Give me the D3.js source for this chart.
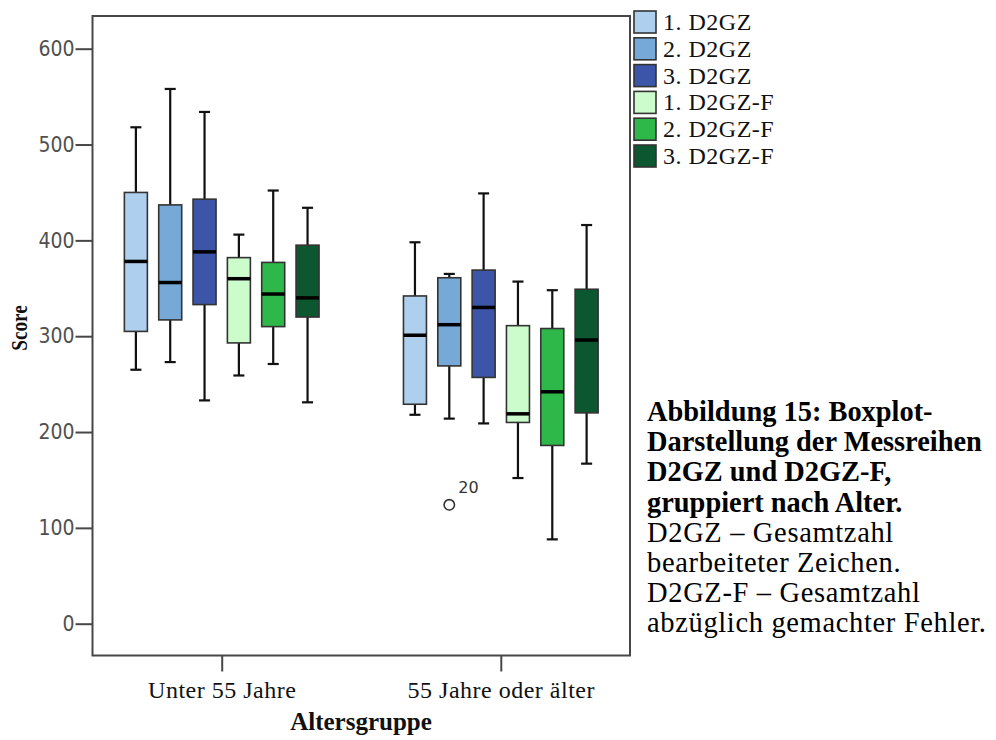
<!DOCTYPE html>
<html>
<head>
<meta charset="utf-8">
<script src="https://cdn.jsdelivr.net/npm/d3@7"></script>
<style>
  html, body { margin: 0; padding: 0; background: #fff; }
  svg { display: block; }
</style>
</head>
<body>
<svg id="chart" width="996" height="740"></svg>
<script>
// Age groups on the x axis
const groups = ["Unter 55 Jahre", "55 Jahre oder älter"];

// Measurement series (one box per series in each group)
const series = ["1. D2GZ", "2. D2GZ", "3. D2GZ", "1. D2GZ-F", "2. D2GZ-F", "3. D2GZ-F"];
const seriesColors = ["#aed0ee", "#76a8d8", "#3d55a8", "#ccfccb", "#2eb84a", "#0c5630"];

// Box statistics per series: [lower whisker, Q1, median, Q3, upper whisker]
const statsUnter55 = [
  [265, 305, 378, 450, 518],
  [273, 317, 356, 437, 558],
  [233, 333, 388, 443, 534],
  [259, 293, 360, 382, 406],
  [271, 310, 344, 377, 452],
  [231, 320, 340, 395, 434]
];
const stats55Plus = [
  [218, 229, 301, 342, 398],
  [214, 269, 312, 361, 365],
  [209, 257, 330, 369, 449],
  [152, 210, 219, 311, 357],
  [88, 186, 242, 308, 348],
  [167, 220, 296, 349, 416]
];

// Outliers: group, series, value, case label
const outliers = [
  { group: "55 Jahre oder älter", series: "2. D2GZ", value: 124, label: "20" }
];

const yTicks = [0, 100, 200, 300, 400, 500, 600];

const captionBold = [
  "Abbildung 15: Boxplot-",
  "Darstellung der Messreihen",
  "D2GZ und D2GZ-F,",
  "gruppiert nach Alter."
];
const captionPlain = [
  "D2GZ – Gesamtzahl",
  "bearbeiteter Zeichen.",
  "D2GZ-F – Gesamtzahl",
  "abzüglich gemachter Fehler."
];

// ---- layout ----
const frame = { left: 92.5, right: 630, top: 16, bottom: 655.5 };
const svg = d3.select("#chart");
const serif = "'Liberation Serif', 'Times New Roman', serif";

const y = d3.scaleLinear().domain([0, 600]).range([623.7, 48.7]);
const x = d3.scalePoint().domain(groups).range([frame.left, frame.right]).padding(0.463);
const inner = d3.scaleBand().domain(series).range([-103, 103]).paddingInner(0.33).paddingOuter(0.165);
const color = d3.scaleOrdinal().domain(series).range(seriesColors);

const boxes = [];
[statsUnter55, stats55Plus].forEach((arr, gi) => {
  arr.forEach((s, si) => {
    boxes.push({ group: groups[gi], series: series[si], lo: s[0], q1: s[1], med: s[2], q3: s[3], hi: s[4] });
  });
});

// frame
svg.append("rect")
  .attr("x", frame.left).attr("y", frame.top)
  .attr("width", frame.right - frame.left).attr("height", frame.bottom - frame.top)
  .attr("fill", "none").attr("stroke", "#474747").attr("stroke-width", 2);

// y axis ticks and labels
const yAxis = d3.axisLeft(y).tickValues(yTicks).tickSize(17).tickPadding(1).tickFormat(d3.format("d"));
const yg = svg.append("g").attr("transform", `translate(${frame.left},0)`).call(yAxis);
yg.select(".domain").remove();
yg.selectAll(".tick line").attr("stroke", "#474747").attr("stroke-width", 2);
yg.selectAll(".tick text")
  .attr("fill", "#505050")
  .style("font-family", "'DejaVu Sans Condensed', 'DejaVu Sans', sans-serif")
  .style("font-stretch", "condensed")
  .style("font-size", "21px");

// x axis ticks and labels
const xAxis = d3.axisBottom(x).tickSize(16).tickPadding(9);
const xg = svg.append("g").attr("transform", `translate(0,${frame.bottom})`).call(xAxis);
xg.select(".domain").remove();
xg.selectAll(".tick line").attr("stroke", "#474747").attr("stroke-width", 2);
xg.selectAll(".tick text")
  .attr("fill", "#111")
  .style("font-family", serif)
  .style("font-size", "24px")
  .style("letter-spacing", "0.5px");

// axis titles
svg.append("text")
  .attr("x", 361).attr("y", 730)
  .attr("text-anchor", "middle")
  .style("font-family", serif).style("font-weight", "bold")
  .style("font-size", "25px")
  .attr("fill", "#111")
  .text("Altersgruppe");

svg.append("text")
  .attr("transform", "translate(27,328) rotate(-90) scale(0.8,1)")
  .attr("text-anchor", "middle")
  .style("font-family", serif).style("font-weight", "bold")
  .style("font-size", "24px")
  .attr("fill", "#111")
  .text("Score");

// boxes
const bw = inner.bandwidth();
const cap = bw * 0.48;
const bg = svg.append("g").selectAll("g").data(boxes).join("g")
  .attr("transform", d => `translate(${x(d.group) + inner(d.series) + bw / 2},0)`);

bg.append("line").attr("x1", 0).attr("x2", 0)
  .attr("y1", d => y(d.hi)).attr("y2", d => y(d.q3))
  .attr("stroke", "#111").attr("stroke-width", 2.2);
bg.append("line").attr("x1", 0).attr("x2", 0)
  .attr("y1", d => y(d.q1)).attr("y2", d => y(d.lo))
  .attr("stroke", "#111").attr("stroke-width", 2.2);
bg.append("line").attr("x1", -cap / 2).attr("x2", cap / 2)
  .attr("y1", d => y(d.hi)).attr("y2", d => y(d.hi))
  .attr("stroke", "#111").attr("stroke-width", 2.2);
bg.append("line").attr("x1", -cap / 2).attr("x2", cap / 2)
  .attr("y1", d => y(d.lo)).attr("y2", d => y(d.lo))
  .attr("stroke", "#111").attr("stroke-width", 2.2);
bg.append("rect")
  .attr("x", -bw / 2).attr("width", bw)
  .attr("y", d => y(d.q3)).attr("height", d => y(d.q1) - y(d.q3))
  .attr("fill", d => color(d.series))
  .attr("stroke", "#333").attr("stroke-width", 1.6);
bg.append("line").attr("x1", -bw / 2).attr("x2", bw / 2)
  .attr("y1", d => y(d.med)).attr("y2", d => y(d.med))
  .attr("stroke", "#000").attr("stroke-width", 3.5);

// outliers
const og = svg.append("g").selectAll("g").data(outliers).join("g")
  .attr("transform", d => `translate(${x(d.group) + inner(d.series) + bw / 2},${y(d.value)})`);
og.append("circle").attr("r", 5.2).attr("fill", "none").attr("stroke", "#333").attr("stroke-width", 1.6);
og.append("text").attr("x", 9).attr("y", -12)
  .style("font-family", "'DejaVu Sans', sans-serif").style("font-size", "16px")
  .attr("fill", "#333")
  .text(d => d.label);

// legend
const lg = svg.append("g").selectAll("g").data(series).join("g")
  .attr("transform", (d, i) => `translate(634,${11 + i * 26.8})`);
lg.append("rect").attr("width", 22).attr("height", 22)
  .attr("fill", d => color(d)).attr("stroke", "#333").attr("stroke-width", 1.6);
lg.append("text").attr("x", 29).attr("y", 19)
  .style("font-family", serif).style("font-size", "24px").style("letter-spacing", "0.5px")
  .attr("fill", "#111")
  .text(d => d);

// caption, one text element per line
const capG = svg.append("g").style("font-family", serif).attr("fill", "#000");
captionBold.forEach((t, i) => {
  capG.append("text").attr("x", 647).attr("y", 421 + i * 30.2)
    .style("font-weight", "bold").style("font-size", "28.4px").text(t);
});
captionPlain.forEach((t, i) => {
  capG.append("text").attr("x", 647).attr("y", 421 + (i + 4) * 30.2)
    .style("font-size", "28.5px").style("letter-spacing", "0.65px").text(t);
});
</script>
</body>
</html>
